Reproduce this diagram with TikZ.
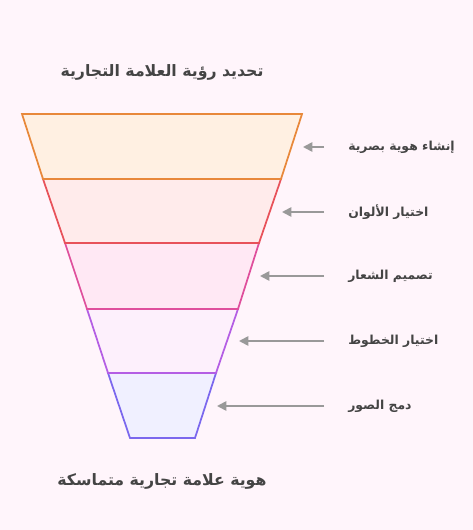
\documentclass[tikz,border=0pt]{standalone}
\usepackage{fontspec}
\newfontfamily\arabicfont[Script=Arabic]{DejaVu Sans}
\TeXXeTstate=1
\usetikzlibrary{arrows.meta,positioning}
\definecolor{bgpink}{HTML}{FFF5FB}
\definecolor{txtgray}{HTML}{444444}
\definecolor{arrgray}{HTML}{999999}
\definecolor{lineA}{HTML}{E8883A}
\definecolor{fillA}{HTML}{FFF0E2}
\definecolor{lineB}{HTML}{E8525A}
\definecolor{fillB}{HTML}{FFEBEB}
\definecolor{lineC}{HTML}{DF4F9C}
\definecolor{fillC}{HTML}{FFE8F4}
\definecolor{lineD}{HTML}{B45EE4}
\definecolor{fillD}{HTML}{FDF0FC}
\definecolor{lineE}{HTML}{7B68EE}
\definecolor{fillE}{HTML}{F0F0FF}
\tikzset{Funnel/.style = {
     title/.style = {font=\arabicfont\bfseries\fontsize{11.8}{14}\selectfont,
                     text=txtgray, inner sep=0pt},
     label/.style = {font=\arabicfont\bfseries\fontsize{9.3}{11}\selectfont,
                     text=txtgray, inner sep=0pt, anchor=west},
      band/.style = {line width=1.3pt, line join=miter},
       arr/.style = {draw=arrgray, line width=1.3pt, shorten <=18pt,
                     -{Triangle[length=7pt,width=7pt]}}}
        }

\begin{document}
\begin{tikzpicture}[Funnel, x=0.75pt, y=-0.75pt]

% background
\fill[bgpink] (0,0) rectangle (473,530);

% funnel bands, drawn from the bottom up
\draw[band, draw=lineE, fill=fillE] (108,373) -- (216,373) -- (195,438) -- (130,438) -- cycle;
\draw[band, draw=lineD, fill=fillD] (87,309) -- (238,309) -- (216,373) -- (108,373) -- cycle;
\draw[band, draw=lineC, fill=fillC] (65,243) -- (259,243) -- (238,309) -- (87,309) -- cycle;
\draw[band, draw=lineB, fill=fillB] (43,179) -- (281,179) -- (259,243) -- (65,243) -- cycle;
\draw[band, draw=lineA, fill=fillA] (22,114) -- (302,114) -- (281,179) -- (43,179) -- cycle;

% nodes
\node (top)    [title] at (162,72)  {\beginR تحديد رؤية العلامة التجارية\endR};
\node (bottom) [title] at (162,481) {\beginR هوية علامة تجارية متماسكة\endR};

\node (lab1) [label] at (348,147) {\beginR إنشاء هوية بصرية\endR};
\node (lab2) [label] at (348,212) {\beginR اختيار الألوان\endR};
\node (lab3) [label] at (348,276) {\beginR تصميم الشعار\endR};
\node (lab4) [label] at (348,341) {\beginR اختيار الخطوط\endR};
\node (lab5) [label] at (348,406) {\beginR دمج الصور\endR};

\coordinate (tip1) at (303,147);
\coordinate (tip2) at (282,212);
\coordinate (tip3) at (260,276);
\coordinate (tip4) at (239,341);
\coordinate (tip5) at (217,406);

% pointers
\draw[arr] (lab1.west) -- (tip1);
\draw[arr] (lab2.west) -- (tip2);
\draw[arr] (lab3.west) -- (tip3);
\draw[arr] (lab4.west) -- (tip4);
\draw[arr] (lab5.west) -- (tip5);

\end{tikzpicture}
\end{document}
